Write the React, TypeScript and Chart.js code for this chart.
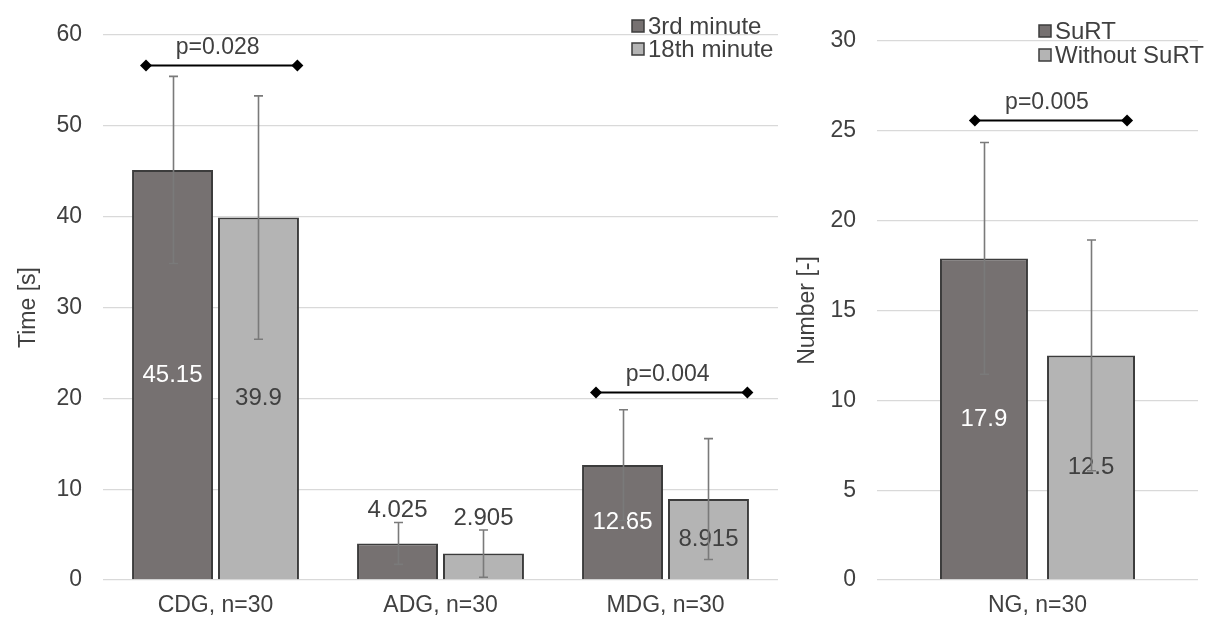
import React, { useEffect, useRef } from "react";
import { Chart, registerables } from "chart.js";
Chart.register(...registerables);

// ---------- data ----------
const leftCategories = ["CDG, n=30", "ADG, n=30", "MDG, n=30"];
const leftSeriesLabels = ["3rd minute", "18th minute"];
const minute3Values = [45.15, 4.025, 12.65];
const minute18Values = [39.9, 2.905, 8.915];
const minute3Errors = [10.3, 2.3, 6.1];
const minute18Errors = [13.4, 2.6, 6.65];
const leftAxisMax = 60;
const leftAxisStep = 10;
const leftAxisTitle = "Time [s]";
const leftPCategory = [0, 2];
const leftPLabels = ["p=0.028", "p=0.004"];
const leftPLevels = [56.7, 20.7];

const rightCategories = ["NG, n=30"];
const rightSeriesLabels = ["SuRT", "Without SuRT"];
const surtValues = [17.9];
const withoutSurtValues = [12.5];
const surtErrors = [6.45];
const withoutSurtErrors = [6.42];
const rightAxisMax = 30;
const rightAxisStep = 5;
const rightAxisTitle = "Number [-]";
const rightPCategory = [0];
const rightPLabels = ["p=0.005"];
const rightPLevels = [25.6];

// ---------- style ----------
const FONT = "'Liberation Sans', Arial, sans-serif";
const TEXT = "#404040";
const DARK_FILL = "#767171";
const LIGHT_FILL = "#b4b4b4";
const BAR_BORDER = "#3c3c3c";
const GRID = "#d9d9d9";
const ERR = "#7a7a7a";
const TICK_SIZE = 23;

const overlayPlugin = {
  id: "overlay",
  afterDatasetsDraw(chart: any, _args: any, opts: any) {
    const ctx = chart.ctx;
    const ys = chart.scales.y;
    const xs = chart.scales.x;
    ctx.save();
    // data labels
    ctx.font = `${opts.labelSize}px ${FONT}`;
    ctx.textAlign = "center";
    ctx.textBaseline = "middle";
    chart.data.datasets.forEach((ds: any, di: number) => {
      const meta = chart.getDatasetMeta(di);
      meta.data.forEach((bar: any, i: number) => {
        const v = ds.data[i];
        const e = ds.errors[i];
        const base = ys.getPixelForValue(0);
        const h = base - bar.y;
        let ly: number;
        let col: string;
        if (h > 60) {
          ly = (bar.y + base) / 2;
          col = ds.labelColor;
        } else {
          ly = ys.getPixelForValue(v + e) - 12;
          col = TEXT;
        }
        ctx.fillStyle = col;
        ctx.fillText(String(v), bar.x, ly);
      });
    });
    // error bars
    ctx.strokeStyle = ERR;
    ctx.lineWidth = 1.6;
    chart.data.datasets.forEach((ds: any, di: number) => {
      const meta = chart.getDatasetMeta(di);
      meta.data.forEach((bar: any, i: number) => {
        const v = ds.data[i];
        const e = ds.errors[i];
        const t = ys.getPixelForValue(v + e);
        const b = ys.getPixelForValue(v - e);
        const x = Math.round(bar.x) + 0.5;
        ctx.beginPath();
        ctx.moveTo(x, t);
        ctx.lineTo(x, b);
        ctx.moveTo(x - 4.5, t);
        ctx.lineTo(x + 4.5, t);
        ctx.moveTo(x - 4.5, b);
        ctx.lineTo(x + 4.5, b);
        ctx.stroke();
      });
    });
    // p-value brackets
    const catW = (xs.right - xs.left) / chart.data.labels.length;
    opts.pCategory.forEach((c: number, k: number) => {
      const cx = xs.getPixelForValue(c);
      const x1 = cx + opts.bracketFrom * catW;
      const x2 = cx + opts.bracketTo * catW;
      const y = Math.round(ys.getPixelForValue(opts.pLevels[k])) + 0.5;
      ctx.strokeStyle = "#000";
      ctx.lineWidth = 2;
      ctx.beginPath();
      ctx.moveTo(x1, y);
      ctx.lineTo(x2, y);
      ctx.stroke();
      ctx.fillStyle = "#000";
      [x1, x2].forEach((px) => {
        ctx.beginPath();
        ctx.moveTo(px - 6, y);
        ctx.lineTo(px, y - 6);
        ctx.lineTo(px + 6, y);
        ctx.lineTo(px, y + 6);
        ctx.closePath();
        ctx.fill();
      });
      ctx.fillStyle = TEXT;
      ctx.font = `${opts.pSize}px ${FONT}`;
      ctx.textAlign = "center";
      ctx.textBaseline = "middle";
      ctx.fillText(opts.pLabels[k], (x1 + x2) / 2 - 4, y - 18);
    });
    // legend
    ctx.font = `${opts.legendSize}px ${FONT}`;
    ctx.textAlign = "left";
    ctx.textBaseline = "middle";
    chart.data.datasets.forEach((ds: any, di: number) => {
      const cy = opts.legendY + di * opts.legendRow;
      ctx.fillStyle = ds.backgroundColor;
      ctx.fillRect(opts.legendX, cy - 6, 12, 12);
      ctx.strokeStyle = BAR_BORDER;
      ctx.lineWidth = 1.5;
      ctx.strokeRect(opts.legendX, cy - 6, 12, 12);
      ctx.fillStyle = TEXT;
      ctx.fillText(ds.label, opts.legendX + 16, cy + 1);
    });
    ctx.restore();
  },
};

function makeConfig(p: any) {
  return {
    type: "bar",
    data: {
      labels: p.labels,
      datasets: [
        {
          label: p.seriesLabels[0],
          data: p.a,
          errors: p.aErr,
          backgroundColor: DARK_FILL,
          borderColor: BAR_BORDER,
          borderWidth: 2,
          labelColor: "#ffffff",
          categoryPercentage: p.catPct,
          barPercentage: p.barPct,
        },
        {
          label: p.seriesLabels[1],
          data: p.b,
          errors: p.bErr,
          backgroundColor: LIGHT_FILL,
          borderColor: BAR_BORDER,
          borderWidth: 2,
          labelColor: TEXT,
          categoryPercentage: p.catPct,
          barPercentage: p.barPct,
        },
      ],
    },
    options: {
      responsive: false,
      animation: false,
      layout: { padding: { top: p.padTop, right: p.padRight, left: 0, bottom: 0 } },
      plugins: {
        legend: { display: false },
        tooltip: { enabled: false },
        overlay: p.overlay,
      },
      scales: {
        x: {
          grid: { display: false },
          border: { display: false },
          ticks: { color: TEXT, font: { family: FONT, size: TICK_SIZE }, padding: 4 },
          afterFit: (s: any) => {
            s.height = 38;
          },
        },
        y: {
          min: 0,
          max: p.max,
          ticks: { stepSize: p.step, color: TEXT, font: { family: FONT, size: TICK_SIZE }, padding: 21 },
          grid: { color: GRID, lineWidth: 1.3, drawTicks: false },
          border: { display: false },
          title: {
            display: true,
            text: p.title,
            color: TEXT,
            font: { family: FONT, size: TICK_SIZE },
            padding: { top: p.titlePad, bottom: 0 },
          },
          afterFit: (s: any) => {
            s.width = p.yWidth;
          },
        },
      },
    },
    plugins: [overlayPlugin],
  };
}

function ChartCanvas(props: { width: number; height: number; left: number; config: any }) {
  const ref = useRef<HTMLCanvasElement>(null);
  useEffect(() => {
    if (!ref.current) return;
    const chart = new Chart(ref.current, props.config);
    return () => chart.destroy();
  }, []);
  return (
    <canvas
      ref={ref}
      width={props.width}
      height={props.height}
      style={{ position: "absolute", left: props.left, top: 0, width: props.width, height: props.height }}
    />
  );
}

export default function App() {
  const leftConfig = makeConfig({
    labels: leftCategories,
    seriesLabels: leftSeriesLabels,
    a: minute3Values,
    b: minute18Values,
    aErr: minute3Errors,
    bErr: minute18Errors,
    max: leftAxisMax,
    step: leftAxisStep,
    title: leftAxisTitle,
    catPct: 0.764,
    barPct: 0.942,
    padTop: 35,
    padRight: 12,
    titlePad: 15,
    yWidth: 103,
    overlay: {
      labelSize: 24,
      pSize: 23,
      legendSize: 24,
      pCategory: leftPCategory,
      pLabels: leftPLabels,
      pLevels: leftPLevels,
      bracketFrom: -0.309,
      bracketTo: 0.364,
      legendX: 632,
      legendY: 26,
      legendRow: 23,
    },
  });
  const rightConfig = makeConfig({
    labels: rightCategories,
    seriesLabels: rightSeriesLabels,
    a: surtValues,
    b: withoutSurtValues,
    aErr: surtErrors,
    bErr: withoutSurtErrors,
    max: rightAxisMax,
    step: rightAxisStep,
    title: rightAxisTitle,
    catPct: 0.667,
    barPct: 0.822,
    padTop: 41,
    padRight: 7,
    titlePad: 4,
    yWidth: 87,
    overlay: {
      labelSize: 24,
      pSize: 23,
      legendSize: 24,
      pCategory: rightPCategory,
      pLabels: rightPLabels,
      pLevels: rightPLevels,
      bracketFrom: -0.195,
      bracketTo: 0.279,
      legendX: 1039 - 790,
      legendY: 31,
      legendRow: 24,
    },
  });
  return (
    <div style={{ position: "fixed", left: 0, top: 0, width: 1205, height: 618, background: "#fff" }}>
      <ChartCanvas width={790} height={618} left={0} config={leftConfig} />
      <ChartCanvas width={415} height={618} left={790} config={rightConfig} />
    </div>
  );
}
